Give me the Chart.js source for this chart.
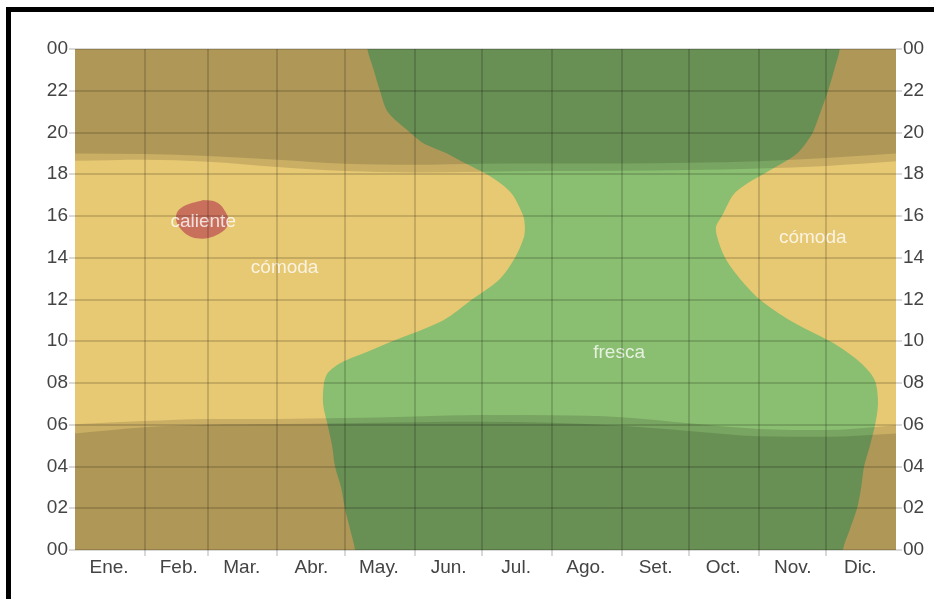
<!DOCTYPE html>
<html>
<head>
<meta charset="utf-8">
<script src="https://cdn.jsdelivr.net/npm/chart.js@4.4.0/dist/chart.umd.min.js"></script>
<style>
  html, body { margin: 0; padding: 0; background: #fff; }
  body { width: 934px; height: 599px; position: relative; overflow: hidden; }
  #frame { position: absolute; left: 6px; top: 7px; width: 960px; height: 640px; border: 5px solid #000; border-bottom: none; border-right: none; box-sizing: border-box; }
  #wrap { position: absolute; left: 0; top: 0; width: 934px; height: 599px; }
</style>
</head>
<body>
<div id="frame"></div>
<div id="wrap"><canvas id="comfortChart"></canvas></div>
<script>
// Months (x axis is day of year, 0..365)
const monthLabels = ['Ene.', 'Feb.', 'Mar.', 'Abr.', 'May.', 'Jun.', 'Jul.', 'Ago.', 'Set.', 'Oct.', 'Nov.', 'Dic.'];
const monthStarts = [0, 31, 59, 90, 120, 151, 181, 212, 243, 273, 304, 334, 365];

// "fresca" zone: for each hour, the day it starts and the day it ends
const boundaryHours = [0, 1, 2, 3, 4, 5, 6, 7, 8, 8.5, 9, 9.5, 10, 11, 12, 13, 14, 15, 15.5, 16, 17, 17.5, 18, 18.5, 19, 19.5, 20, 21, 22, 23, 24];
const frescaStart = [124.5, 122.3, 120, 118.3, 115.6, 114.3, 112.3, 110.3, 110.7, 112.5, 118.7, 130, 141, 163.6, 176.5, 189, 195.6, 199.6, 200, 199.3, 194.7, 190, 183, 174, 165.4, 154.7, 149, 139, 135.6, 132.8, 130];
const frescaEnd = [341.4, 344.5, 347.7, 349.5, 350.8, 353.4, 355.7, 357, 356, 353.4, 349, 343, 335.7, 317.9, 304.5, 295.6, 289, 285.5, 285, 287.6, 292.5, 298, 305.9, 314, 321, 325, 328, 331.5, 334.8, 337.5, 340];

// "caliente" patch outline
const calienteDays = [57.0, 48.1, 44.9, 47.4, 54.1, 63.0, 68.2, 65.9, 62.2, 57.0];
const calienteHours = [16.77, 16.45, 15.97, 15.33, 14.93, 15.09, 15.65, 16.37, 16.69, 16.77];

// Daylight: hours sampled on the first day of each month
const sunDays = monthStarts;
const nightEnd = [5.58, 5.88, 6.0, 6.03, 6.07, 6.12, 6.14, 6.1, 5.95, 5.7, 5.45, 5.42, 5.58];
const sunrise = [6.02, 6.18, 6.28, 6.28, 6.32, 6.4, 6.47, 6.45, 6.36, 6.07, 5.8, 5.75, 5.98];
const sunset = [18.65, 18.7, 18.6, 18.35, 18.15, 18.08, 18.12, 18.15, 18.17, 18.2, 18.28, 18.4, 18.62];
const nightStart = [19.0, 18.97, 18.88, 18.7, 18.5, 18.45, 18.5, 18.52, 18.52, 18.55, 18.62, 18.78, 19.0];

// Zone labels
const labelTexts = ['caliente', 'cómoda', 'cómoda', 'fresca'];
const labelDays = [57, 93.2, 328, 241.9];
const labelHours = [15.74, 13.5, 14.97, 9.46];

const COMODA = '#e7c873';
const FRESCA = '#8abe70';
const CALIENTE = '#c9705d';
const SHADE = 'rgba(0, 0, 0, 0.13)';
const GRID = 'rgba(0, 0, 0, 0.15)';

const toPoints = (xs, ys) => xs.map((x, i) => ({ x: x, y: ys[i] }));

// close the fresca outline outside the plot so the corners get clipped
const last = boundaryHours.length - 1;
const frescaOutline = [
    { x: frescaStart[0], y: -1 },
    ...toPoints(frescaStart, boundaryHours),
    { x: frescaStart[last], y: 25 },
    { x: frescaEnd[last], y: 25 },
    ...toPoints(frescaEnd, boundaryHours).reverse(),
    { x: frescaEnd[0], y: -1 }
];

const hourLabel = v => String(v % 24).padStart(2, '0');

const zoneLabels = {
    id: 'zoneLabels',
    afterDatasetsDraw(chart) {
        const { ctx, scales } = chart;
        ctx.save();
        ctx.font = '19px "Liberation Sans", Arial, sans-serif';
        ctx.fillStyle = 'rgba(255, 255, 255, 0.78)';
        ctx.textAlign = 'center';
        ctx.textBaseline = 'middle';
        labelTexts.forEach((t, i) => {
            ctx.fillText(t, scales.x.getPixelForValue(labelDays[i]), scales.y.getPixelForValue(labelHours[i]));
        });
        ctx.restore();
    }
};

Chart.defaults.font.family = '"Liberation Sans", Arial, sans-serif';
Chart.defaults.font.size = 19;
Chart.defaults.color = '#444';

const area = (label, data, color, fill, order, tension) => ({
    label: label,
    data: data,
    backgroundColor: color,
    borderColor: 'rgba(0,0,0,0)',
    borderWidth: 0,
    pointRadius: 0,
    fill: fill,
    order: order,
    tension: tension || 0,
    cubicInterpolationMode: fill === 'shape' ? 'default' : 'monotone'
});

new Chart(document.getElementById('comfortChart'), {
    type: 'line',
    data: {
        datasets: [
            area('base', toPoints([0, 365], [24, 24]), COMODA, 'start', 9),
            area('fresca', frescaOutline, FRESCA, 'shape', 8, 0.3),
            area('caliente', toPoints(calienteDays, calienteHours), CALIENTE, 'shape', 7, 0.4),
            area('atardecer', toPoints(sunDays, sunset), SHADE, 'end', 4),
            area('noche', toPoints(sunDays, nightStart), SHADE, 'end', 3),
            area('amanecer', toPoints(sunDays, sunrise), SHADE, 'start', 2),
            area('madrugada', toPoints(sunDays, nightEnd), SHADE, 'start', 1)
        ]
    },
    options: {
        responsive: true,
        maintainAspectRatio: false,
        animation: false,
        layout: { padding: { top: 49, bottom: 14, left: 0, right: 0 } },
        plugins: { legend: { display: false }, tooltip: { enabled: false } },
        scales: {
            x: {
                type: 'linear',
                min: 0,
                max: 365,
                afterBuildTicks: s => { s.ticks = monthStarts.map(v => ({ value: v })); },
                afterFit: s => { s.height = 35; },
                ticks: {
                    autoSkip: false,
                    maxRotation: 0,
                    labelOffset: 34,
                    padding: 0,
                    callback: (v, i) => monthLabels[i] || ''
                },
                grid: {
                    z: 1,
                    lineWidth: 2,
                    tickLength: 6,
                    color: c => (c.tick && (c.tick.value === 0 || c.tick.value === 365)) ? 'rgba(0,0,0,0)' : GRID
                },
                border: { display: false }
            },
            y: {
                type: 'linear',
                position: 'left',
                min: 0,
                max: 24,
                afterFit: s => { s.width = 75; },
                ticks: { stepSize: 2, padding: 1, callback: hourLabel },
                grid: { z: 1, lineWidth: 2, tickLength: 6, color: GRID },
                border: { display: false }
            },
            y2: {
                type: 'linear',
                position: 'right',
                min: 0,
                max: 24,
                afterFit: s => { s.width = 38; },
                ticks: { stepSize: 2, padding: 1, callback: hourLabel },
                grid: { drawOnChartArea: false, lineWidth: 2, tickLength: 6, color: GRID },
                border: { display: false }
            }
        }
    },
    plugins: [zoneLabels]
});
</script>
</body>
</html>
